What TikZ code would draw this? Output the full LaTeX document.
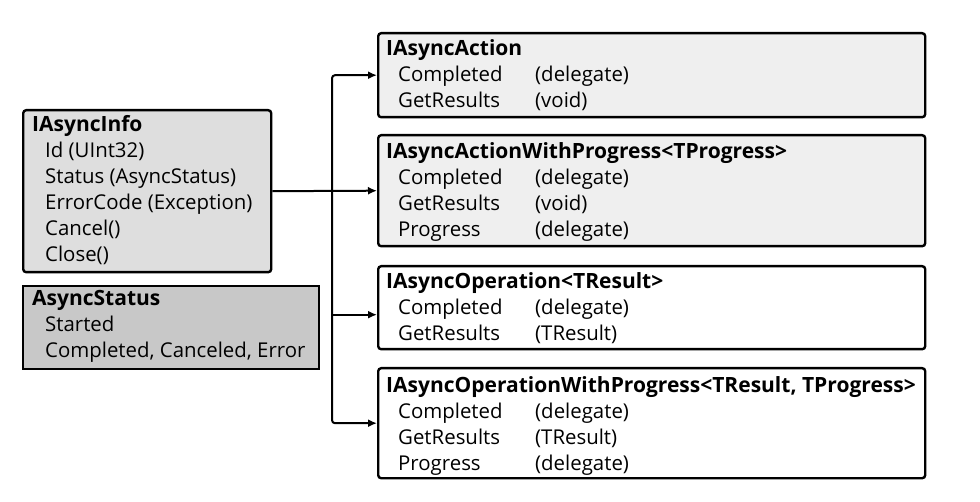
\documentclass[tikz,border=0pt]{standalone}
\usepackage{fontspec}
\setmainfont{Open Sans}
\usetikzlibrary{arrows.meta}
\definecolor{infofill}{RGB}{222,222,222}
\definecolor{statusfill}{RGB}{200,200,200}
\definecolor{actfill}{RGB}{239,239,239}
\begin{document}
\begin{tikzpicture}[x=1pt,y=-1pt,
  frame/.style={draw=black, line width=2.4pt, rounded corners=3pt, anchor=north west, inner sep=0pt},
  txt/.style={anchor=base west, inner sep=0pt, align=left, font=\fontsize{20.4}{26}\selectfont},
  link/.style={draw=black, line width=2pt, -{Latex[length=9pt,width=8pt]}}
]
\useasboundingbox (0,0) rectangle (980,502);
\newcommand{\ttl}[1]{{\fontsize{21}{26}\selectfont\bfseries #1}}
\newcommand{\ind}{\hspace*{12pt}}
\newcommand{\mem}[2]{\ind\makebox[137pt][l]{#1}#2}

% IAsyncInfo and AsyncStatus on the left (anchored at the baseline of the last line)
\node[frame, fill=infofill, minimum width=248pt, minimum height=162pt] (info) at (22,109) {};
\node[txt] (infot) at (32,262) {\ttl{IAsyncInfo}\\\hspace*{13pt}Id (UInt32)\\\hspace*{13pt}Status (AsyncStatus)\\\hspace*{13pt}ErrorCode (Exception)\\\hspace*{13pt}Cancel()\\\hspace*{13pt}Close()};

\node[frame, rounded corners=0pt, fill=statusfill, minimum width=296pt, minimum height=83pt] (status) at (22,285) {};
\node[txt] (statust) at (32,358) {\ttl{AsyncStatus}\\\hspace*{13pt}Started\\\hspace*{13pt}Completed, Canceled, Error};

% Derived interfaces on the right
\node[frame, fill=actfill, minimum width=547pt, minimum height=84pt] (act) at (377,32) {};
\node[txt] (actt) at (386,108) {\ttl{IAsyncAction}\\\mem{Completed}{(delegate)}\\\mem{GetResults}{(void)}};

\node[frame, fill=actfill, minimum width=547pt, minimum height=111pt] (actp) at (377,134) {};
\node[txt] (actpt) at (386,237) {\ttl{IAsyncActionWithProgress<TProgress>}\\\mem{Completed}{(delegate)}\\\mem{GetResults}{(void)}\\\mem{Progress}{(delegate)}};

\node[frame, fill=white, minimum width=547pt, minimum height=83pt] (op) at (377,265) {};
\node[txt] (opt) at (386,341) {\ttl{IAsyncOperation<TResult>}\\\mem{Completed}{(delegate)}\\\mem{GetResults}{(TResult)}};

\node[frame, fill=white, minimum width=547pt, minimum height=110pt] (opp) at (377,367) {};
\node[txt] (oppt) at (386,470) {\ttl{IAsyncOperationWithProgress<TResult, TProgress>}\\\mem{Completed}{(delegate)}\\\mem{GetResults}{(TResult)}\\\mem{Progress}{(delegate)}};

% Connectors
\coordinate (trunk) at (332,190);
\coordinate (opin) at ([yshift=-7pt]op.west);
\draw[link] (info.east) -- (actp.west);
\draw[link, rounded corners=3pt] (trunk) |- (act.west);
\draw[link, rounded corners=3pt] (trunk) |- (opp.west);
\draw[link] (trunk |- opin) -- (opin);
\end{tikzpicture}
\end{document}
